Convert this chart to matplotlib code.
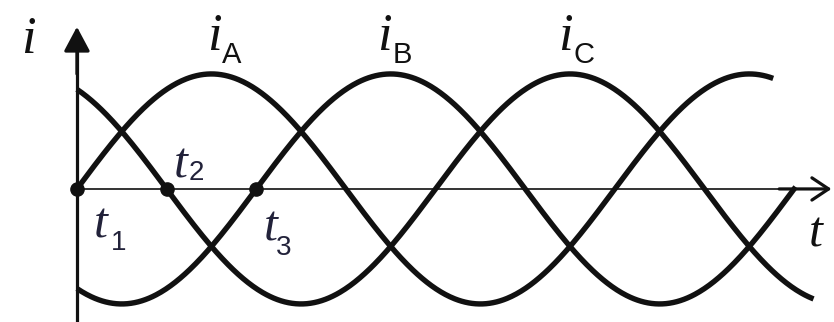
import numpy as np
import matplotlib
matplotlib.use("Agg")
import matplotlib.pyplot as plt

# phase currents: name, phase shift (deg), where the drawn curve stops (deg)
phases = ["A", "B", "C"]
shifts = [0, -120, 120]
end_deg = [466, 481, 493]
label_deg = [92, 206, 327]  # where the i_X labels sit (near each peak)

# marked instants on the time axis
t_names = ["1", "2", "3"]
t_deg = [0, 60, 120]
# offsets (px) of the "t" glyph from its dot, and of the subscript from the "t"
t_off = [(24, -49), (14, 11), (14, -52)]
sub_off = [(10, -12), (8, -2), (6, -14)]

ink = "#111111"
navy = "#22223a"
serif = ["Liberation Serif", "DejaVu Serif"]
sans = ["Liberation Sans", "DejaVu Sans"]
PT = 0.72  # points per pixel at 100 dpi

fig = plt.figure(figsize=(8.34, 3.22), dpi=100)
ax = fig.add_axes([0, 0, 1, 1])
ax.set_xlim(-51.5, 506.7)
ax.set_ylim(-1.157, 1.643)
ax.axis("off")

# curves
for name, sh, end in zip(phases, shifts, end_deg):
    x = np.linspace(0, end, 600)
    ax.plot(x, np.sin(np.radians(x + sh)), color=ink, lw=3.9,
            solid_capstyle="butt", zorder=3)

# axes with arrows
ax.plot([0, 0], [-1.2, 1.2], color=ink, lw=2.3, zorder=2)
ax.annotate("", xy=(0, 1.41), xytext=(0, 1.0),
            arrowprops=dict(arrowstyle="-|>,head_length=1.5,head_width=0.8",
                            color=ink, lw=2.3, shrinkA=0, shrinkB=0))
ax.plot([0, 500], [0, 0], color=ink, lw=1.2, zorder=2)
ax.annotate("", xy=(505, 0), xytext=(470, 0),
            arrowprops=dict(arrowstyle="->,head_length=1.2,head_width=0.8",
                            color=ink, lw=2.3, shrinkA=0, shrinkB=0))

# axis names
ax.annotate("i", xy=(0, 0), xytext=(28 - 77, 189 - 53), textcoords="offset pixels",
            fontsize=38, family=serif, style="italic", color=ink,
            ha="center", va="baseline")
ax.annotate("t", xy=(0, 0), xytext=(816 - 77, 189 - 247), textcoords="offset pixels",
            fontsize=36, family=serif, style="italic", color=ink,
            ha="center", va="baseline")

# phase labels i_A, i_B, i_C
for name, ld in zip(phases, label_deg):
    ax.text(ld, 1.21, "i", fontsize=38, family=serif, style="italic",
            color=ink, ha="center", va="baseline")
    ax.annotate(name, xy=(ld, 1.21), xytext=(8 * PT, -13 * PT),
                textcoords="offset points", fontsize=21, family=sans,
                color=ink, ha="left", va="baseline")

# marked points t1, t2, t3
ax.plot(t_deg, np.zeros(len(t_deg)), "o", color=ink, ms=9.5, zorder=4)
for name, td, (ox, oy), (sx, sy) in zip(t_names, t_deg, t_off, sub_off):
    ax.annotate("t", xy=(td, 0), xytext=(ox * PT, oy * PT),
                textcoords="offset points", fontsize=36, family=serif,
                style="italic", color=navy, ha="center", va="baseline")
    ax.annotate(name, xy=(td, 0), xytext=((ox + sx) * PT, (oy + sy) * PT),
                textcoords="offset points", fontsize=20, family=sans,
                color=navy, ha="left", va="baseline")

fig.savefig("out.png", dpi=100, facecolor="white")
